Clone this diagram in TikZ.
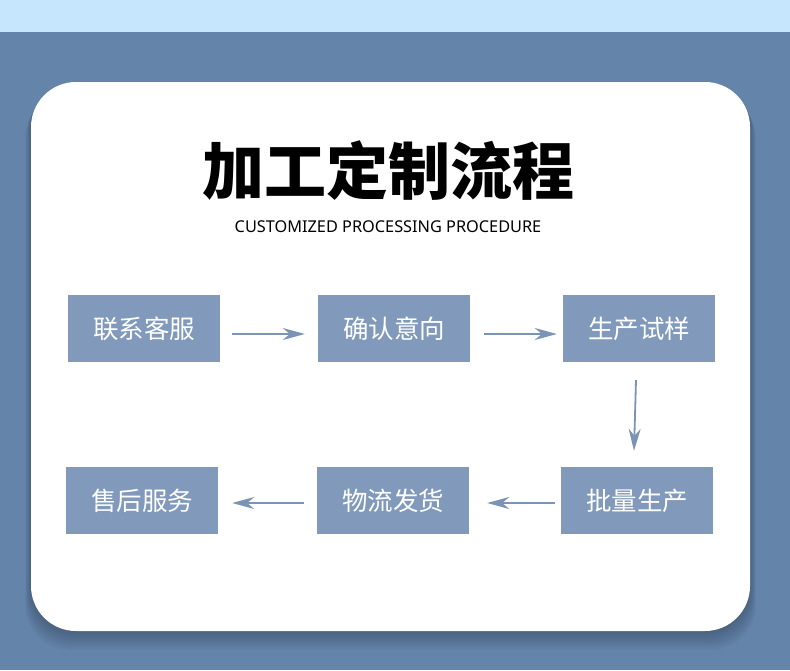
\documentclass[tikz,border=0pt]{standalone}
\usepackage{fontspec}
\setmainfont{Noto Sans}
\newfontfamily\cjk{Noto Sans CJK SC}
\usetikzlibrary{arrows.meta}
\definecolor{bgdark}{HTML}{6584AA}
\definecolor{bglight}{HTML}{C6E6FE}
\definecolor{boxc}{HTML}{8199BA}
\definecolor{arrc}{HTML}{7B93B5}
\tikzset{
  stepbox/.style={fill=boxc, draw=none, minimum width=152pt, minimum height=67pt, inner sep=0pt,
    text=white, font=\cjk\fontsize{25.5}{30}\selectfont},
  flow/.style={draw=arrc, line width=1.8pt, -{Stealth[length=22pt,width=12pt,inset=7pt]}}
}
\begin{document}
\begin{tikzpicture}[x=1pt,y=-1pt]
\useasboundingbox (0,0) rectangle (790,670);
\fill[bgdark] (0,0) rectangle (790,670);
\fill[bglight] (0,0) rectangle (790,32);
% shadow
\foreach \i in {1,...,10}{
  \fill[black,opacity=0.025,rounded corners=45pt] (31-\i*0.6,82+\i*1.2) rectangle (750+\i*0.6,631+\i*1.9);
}
\fill[white,rounded corners=45pt] (31,82) rectangle (750,631);
% title
\node (title) at (388,171) {\cjk\bfseries\fontsize{62}{70}\selectfont 加工定制流程};
\node (sub) at (388,227) {\fontsize{16.3}{20}\selectfont CUSTOMIZED PROCESSING PROCEDURE};
% boxes
\node[stepbox] (b1) at (144,328.5) {联系客服};
\node[stepbox] (b2) at (394,328.5) {确认意向};
\node[stepbox] (b3) at (639,328.5) {生产试样};
\node[stepbox] (b6) at (637,500.5) {批量生产};
\node[stepbox] (b5) at (393,500.5) {物流发货};
\node[stepbox] (b4) at (142,500.5) {售后服务};
% arrows
\draw[flow] ([xshift=12pt,yshift=-5.5pt]b1.east) -- ([xshift=-13pt,yshift=-5.5pt]b2.west);
\draw[flow] ([xshift=14pt,yshift=-5.5pt]b2.east) -- ([xshift=-6pt,yshift=-5.5pt]b3.west);
\draw[flow] ([xshift=-3pt,yshift=-18pt]b3.south) -- ([xshift=-3pt,yshift=16pt]b6.north);
\draw[flow] ([xshift=-6pt,yshift=-2.5pt]b6.west) -- ([xshift=18pt,yshift=-2.5pt]b5.east);
\draw[flow] ([xshift=-13pt,yshift=-2.5pt]b5.west) -- ([xshift=14pt,yshift=-2.5pt]b4.east);
\end{tikzpicture}
\end{document}
